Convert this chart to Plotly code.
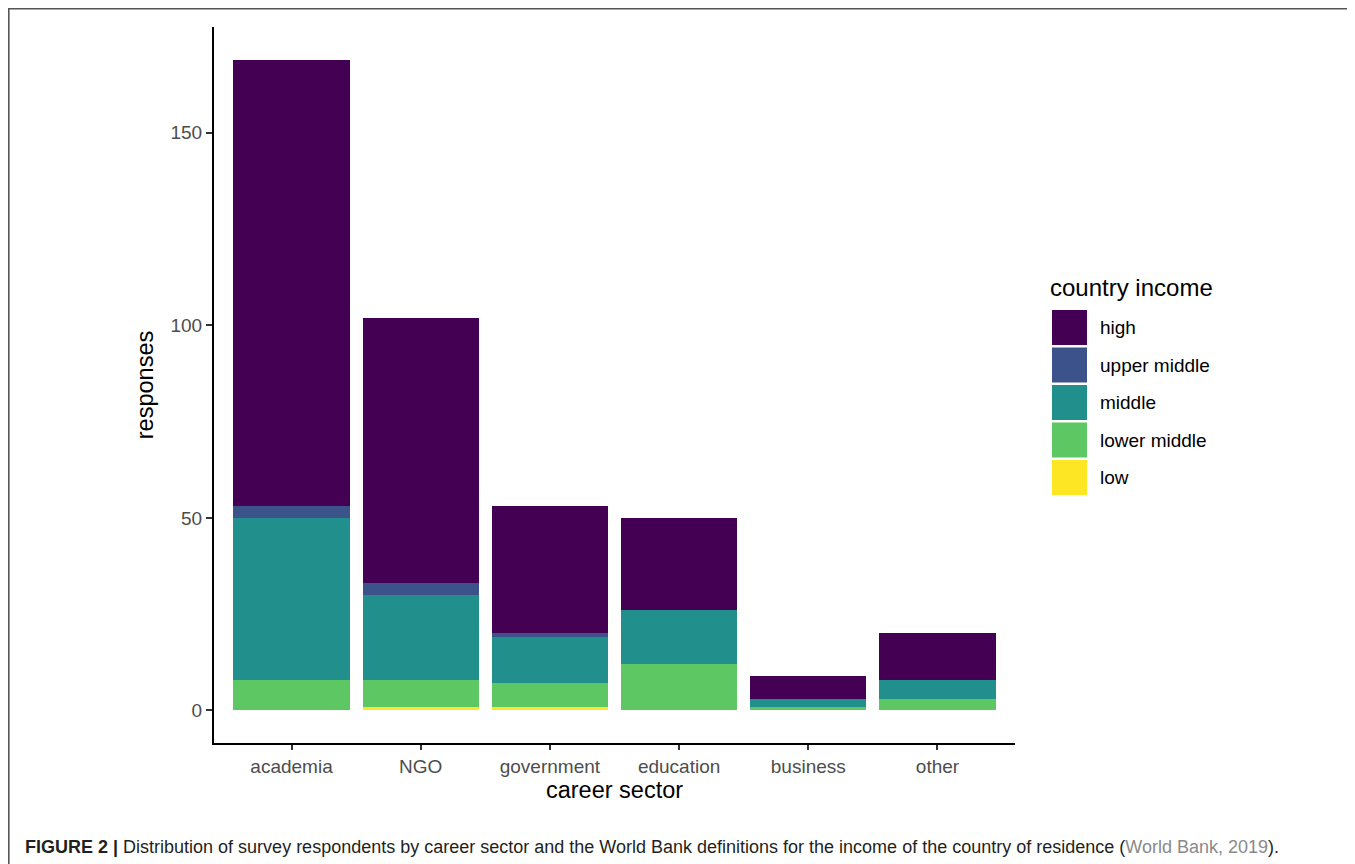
import plotly.graph_objects as go

sectors = ["academia", "NGO", "government", "education", "business", "other"]
income_levels = ["high", "upper middle", "middle", "lower middle", "low"]
colors = ["#440154", "#3B528B", "#21908C", "#5DC863", "#FDE725"]

high = [116, 69, 33, 24, 6, 12]
upper_middle = [3, 3, 1, 0, 0, 0]
middle = [42, 22, 12, 14, 2, 5]
lower_middle = [8, 7, 6, 12, 1, 3]
low = [0, 1, 1, 0, 0, 0]

series = {
    "high": high,
    "upper middle": upper_middle,
    "middle": middle,
    "lower middle": lower_middle,
    "low": low,
}

W, H = 1355, 864
OFF = 8  # page body margin offset
L, R, T, B = 214 - OFF, 1015 - OFF, 27 - OFF, 743 - OFF

def px(x):
    return (x - OFF - L) / (R - L)

def py(y):
    return (B - (y - OFF)) / (B - T)

fig = go.Figure()
for name, col in reversed(list(zip(income_levels, colors))):
    fig.add_trace(go.Bar(
        x=sectors, y=series[name], name=name,
        marker=dict(color=col, line=dict(width=0)),
        showlegend=False,
    ))

font = "Liberation Sans, Arial, Helvetica, sans-serif"

fig.update_layout(
    width=W, height=H,
    barmode="stack", bargap=0.1,
    plot_bgcolor="white", paper_bgcolor="white",
    margin=dict(l=L, r=W - R, t=T, b=H - B),
    font=dict(family=font, color="black"),
    xaxis=dict(
        range=[-0.6, 5.6], showgrid=False, zeroline=False,
        showline=True, linecolor="black", linewidth=2,
        ticks="outside", ticklen=5, tickwidth=1.5, tickcolor="#333333",
        tickfont=dict(size=19, color="#4D4D4D", family=font),
        title=dict(text="career sector", font=dict(size=23.5, color="black", family=font), standoff=6),
    ),
    yaxis=dict(
        range=[-8.45, 177.45], showgrid=False, zeroline=False,
        showline=True, linecolor="black", linewidth=2,
        tickvals=[0, 50, 100, 150],
        ticks="outside", ticklen=6, tickwidth=1.5, tickcolor="#333333",
        tickfont=dict(size=19, color="#4D4D4D", family=font),
        title=dict(text="responses", font=dict(size=23.5, color="black", family=font), standoff=10),
    ),
)

shapes = []
annotations = []
# frame (top and left edges of figure box)
shapes.append(dict(type="line", xref="paper", yref="paper",
                   x0=px(8), x1=px(1370), y0=py(8.8), y1=py(8.8),
                   line=dict(color="#555555", width=1.6)))
shapes.append(dict(type="line", xref="paper", yref="paper",
                   x0=px(8.8), x1=px(8.8), y0=py(8), y1=py(880),
                   line=dict(color="#555555", width=1.6)))

# legend
annotations.append(dict(xref="paper", yref="paper", x=px(1048), y=py(287),
                        xanchor="left", yanchor="middle", showarrow=False,
                        text="country income", font=dict(size=24, color="black", family=font)))
for i, (name, col) in enumerate(zip(income_levels, colors)):
    top = 310 + i * 37.5
    shapes.append(dict(type="rect", xref="paper", yref="paper",
                       x0=px(1052), x1=px(1087), y0=py(top + 35), y1=py(top),
                       fillcolor=col, line=dict(width=0)))
    annotations.append(dict(xref="paper", yref="paper", x=px(1098), y=py(top + 17.5),
                            xanchor="left", yanchor="middle", showarrow=False,
                            text=name, font=dict(size=19, color="black", family=font)))

# caption
annotations.append(dict(xref="paper", yref="paper", x=px(23), y=py(847),
                        xanchor="left", yanchor="middle", showarrow=False,
                        text="<b>FIGURE 2 |</b> Distribution of survey respondents by career sector and the World Bank definitions for the income of the country of residence (<span style='color:#8a8a8a'>World Bank, 2019</span>).",
                        font=dict(size=18, color="#231F20", family=font)))

fig.update_layout(shapes=shapes, annotations=annotations)
fig.write_html("out.html")
